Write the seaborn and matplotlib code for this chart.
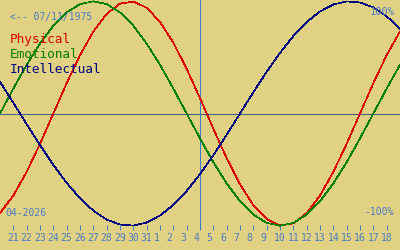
import matplotlib
matplotlib.use("Agg")
import matplotlib.pyplot as plt
import seaborn as sns
import pandas as pd

# ---- data ----
day_labels = [21, 22, 23, 24, 25, 26, 27, 28, 29, 30, 31,
              1, 2, 3, 4, 5, 6, 7, 8, 9, 10, 11, 12, 13, 14, 15, 16, 17, 18]
day_index = list(range(-1, 30))          # day offset from the first labelled day
physical = [-0.888, -0.731, -0.520, -0.270, 0.000, 0.270, 0.520, 0.731, 0.888,
            0.979, 0.998, 0.942, 0.817, 0.631, 0.398, 0.136, -0.136, -0.398,
            -0.631, -0.817, -0.942, -0.998, -0.979, -0.888, -0.731, -0.520,
            -0.270, 0.000, 0.270, 0.520, 0.731]
emotional = [0.000, 0.2225, 0.4339, 0.6235, 0.7818, 0.9010, 0.9749, 1.000,
             0.9749, 0.9010, 0.7818, 0.6235, 0.4339, 0.2225, 0.000, -0.2225,
             -0.4339, -0.6235, -0.7818, -0.9010, -0.9749, -1.000, -0.9749,
             -0.9010, -0.7818, -0.6235, -0.4339, -0.2225, 0.000, 0.2225, 0.4339]
intellectual = [0.2817, 0.0951, -0.0951, -0.2817, -0.4582, -0.6182, -0.7557,
                -0.8660, -0.9450, -0.9898, -0.9989, -0.9718, -0.9096, -0.8146,
                -0.6901, -0.5406, -0.3717, -0.1893, 0.000, 0.1893, 0.3717,
                0.5406, 0.6901, 0.8146, 0.9096, 0.9718, 0.9989, 0.9898, 0.9450,
                0.8660, 0.7557]
cycles = ["Physical", "Emotional", "Intellectual"]
today_index = 14
birth_label = "<-- 07/11/1975"
month_label = "04-2026"
top_label = "100%"
bottom_label = "-100%"

# ---- style ----
bg = "#e0d282"
txt_blue = "#4a7ac8"
palette = {"Physical": "#e00000", "Emotional": "#008000", "Intellectual": "#000080"}

sns.set_theme(style="white")
plt.rcParams['font.family'] = ['DejaVu Sans Mono']

fig = plt.figure(figsize=(4, 2.5), dpi=100, facecolor=bg)
ax = fig.add_axes([0, 20 / 250, 1, 230 / 250])
ax.set_facecolor(bg)

df = pd.DataFrame({
    "day": day_index * 3,
    "value": physical + emotional + intellectual,
    "cycle": [c for c in cycles for _ in day_index],
})

ax.axhline(0, color="#40608c", lw=0.75, zorder=1)
ax.axvline(today_index, color="#3a78d0", lw=0.75, zorder=1)

sns.lineplot(data=df, x="day", y="value", hue="cycle", hue_order=cycles,
             palette=palette, ax=ax, legend=False, linewidth=0.5,
             antialiased=False, zorder=2)

ax.set_xlim(-1, 29)
ax.set_ylim(-1.0383, 1.0116)
ax.set_xticks(range(len(day_labels)))
ax.set_xticklabels([f"{d:<2}" for d in day_labels])
ax.set_yticks([])
ax.tick_params(axis="x", direction="in", length=3.6, width=0.75, color=txt_blue,
               labelcolor=txt_blue, labelsize=7, pad=2.5, bottom=True)
ax.set_xlabel("")
ax.set_ylabel("")
for s in ax.spines.values():
    s.set_visible(False)

def ftext(x, y, s, **kw):
    fig.text(x / 400, 1 - y / 250, s, va="baseline", **kw)

ftext(10, 20, birth_label, ha="left", fontsize=7, color=txt_blue)
ftext(10, 43, "Physical", ha="left", fontsize=9.2, color=palette["Physical"])
ftext(10, 58, "Emotional", ha="left", fontsize=9.2, color=palette["Emotional"])
ftext(10, 73, "Intellectual", ha="left", fontsize=9.2, color=palette["Intellectual"])
ftext(395, 15, top_label, ha="right", fontsize=7.5, color=txt_blue)
ftext(394, 215, bottom_label, ha="right", fontsize=7, color=txt_blue)
ftext(5, 216, month_label, ha="left", fontsize=7, color=txt_blue)

fig.savefig("out.png", dpi=100, facecolor=bg)
